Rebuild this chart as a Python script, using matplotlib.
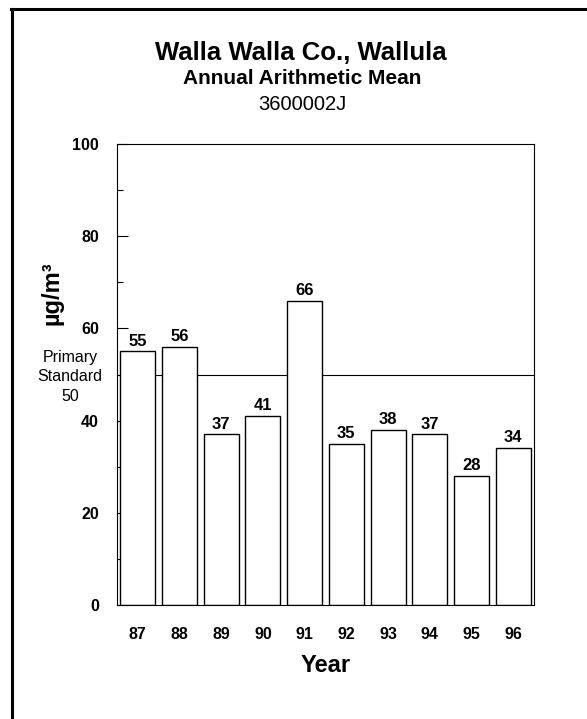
import matplotlib
matplotlib.use("Agg")
import matplotlib.pyplot as plt
from matplotlib.lines import Line2D

plt.rcParams['font.family'] = ['Liberation Sans', 'DejaVu Sans']

# data
years = ["87", "88", "89", "90", "91", "92", "93", "94", "95", "96"]
means = [55, 56, 37, 41, 66, 35, 38, 37, 28, 34]
standard = 50

W, H = 587, 719
fig = plt.figure(figsize=(W / 100, H / 100), dpi=100)

# axes box in pixel terms: x 117..534, y 144..605
ax = fig.add_axes([117 / W, 1 - 605 / H, 417 / W, 461 / H])

x = list(range(len(years)))
ax.axhline(standard, color="black", lw=0.8, zorder=1)
bars = ax.bar(x, means, width=0.84, color="white", edgecolor="black",
              linewidth=1.0, zorder=2)
for xi, v in zip(x, means):
    ax.text(xi, v + 0.6, str(v), ha="center", va="bottom",
            fontsize=12, fontweight="bold")

ax.set_xlim(-0.5, len(years) - 0.5)
ax.set_ylim(0, 100)
ax.set_yticks(range(0, 101, 20))
ax.set_yticks(range(10, 100, 20), minor=True)
ax.set_xticks(x)
ax.set_xticklabels(years)
ax.tick_params(axis="y", which="major", direction="in", length=8, width=0.8,
               pad=13, labelsize=11.5)
ax.tick_params(axis="y", which="minor", direction="in", length=4.5, width=0.8)
ax.tick_params(axis="x", length=0, pad=16, labelsize=11.5)
for lab in ax.get_xticklabels() + ax.get_yticklabels():
    lab.set_fontweight("bold")
for s in ax.spines.values():
    s.set_linewidth(0.8)

# titles
fig.text(301 / W, 1 - 60 / H, "Walla Walla Co., Wallula", ha="center",
         va="baseline", fontsize=18.5, fontweight="bold")
fig.text(302 / W, 1 - 84 / H, "Annual Arithmetic Mean", ha="center",
         va="baseline", fontsize=15, fontweight="bold")
fig.text(302 / W, 1 - 110 / H, "3600002J", ha="center",
         va="baseline", fontsize=14.5)

fig.text(52 / W, 1 - 293 / H, "µg/m³", rotation=90, ha="center",
         va="center", fontsize=17, fontweight="bold")
fig.text(326 / W, 1 - 665 / H, "Year", ha="center", va="center",
         fontsize=17, fontweight="bold")
fig.text(70 / W, 1 - 377 / H, "Primary\nStandard\n" + str(standard),
         ha="center", va="center", fontsize=11.5, linespacing=1.4)

# outer frame (only top and left edges visible)
fig.add_artist(Line2D([11.5 / W, 11.5 / W], [0, 1 - 9 / H],
                      transform=fig.transFigure, color="black", lw=2.2))
fig.add_artist(Line2D([10.5 / W, 1], [1 - 9 / H, 1 - 9 / H],
                      transform=fig.transFigure, color="black", lw=2.2))

fig.savefig("out.png", dpi=100)
